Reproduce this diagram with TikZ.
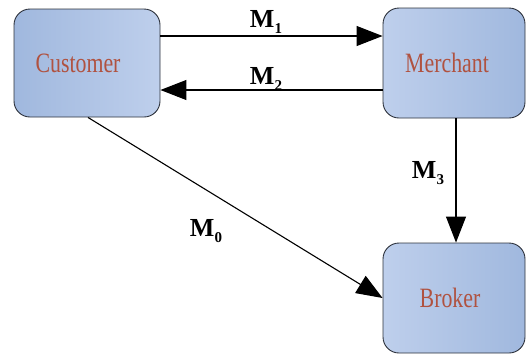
\documentclass[tikz,border=0pt]{standalone}
\usepackage{fontspec}
\setmainfont{Liberation Serif}
\usetikzlibrary{arrows.meta}
\definecolor{txtred}{RGB}{176,82,64}
\definecolor{boxdark}{RGB}{160,184,222}
\definecolor{boxlight}{RGB}{190,207,236}
\definecolor{boxedge}{RGB}{45,50,60}
\tikzset{
  actor/.style={draw=boxedge, line width=0.9pt, rounded corners=16pt,
    minimum width=#1, inner sep=0pt},
  lbl/.style={font=\rmfamily\fontsize{28}{30}\selectfont, text=txtred},
  msg/.style={line width=1.1pt, -{Triangle[length=26pt,width=20pt]}},
  mlab/.style={font=\rmfamily\fontsize{26}{28}\selectfont\bfseries, inner sep=0pt}
}
\newcommand{\narrow}[1]{\scalebox{0.78}[1]{#1}}
\newcommand{\msub}[1]{\textbf{M}\raisebox{-6pt}{\fontsize{15}{15}\selectfont\bfseries #1}}
\begin{document}
\begin{tikzpicture}[x=1pt,y=-1pt]
\useasboundingbox (0,0) rectangle (526,354);
\node[actor=146pt, minimum height=108pt, left color=boxdark, right color=boxlight,
  label={[lbl,xshift=-9pt]center:\narrow{Customer}}] (cust) at (87,63) {};
\node[actor=142pt, minimum height=110pt, left color=boxlight, right color=boxdark,
  label={[lbl,xshift=-7pt]center:\narrow{Merchant}}] (merch) at (454,63) {};
\node[actor=142pt, minimum height=110pt, left color=boxlight, right color=boxdark,
  label={[lbl,xshift=-4pt]center:\narrow{Broker}}] (brok) at (454,298) {};
\coordinate (c1) at (cust.east |- 0,36);
\coordinate (m1) at (merch.west |- 0,36);
\coordinate (c2) at (cust.east |- 0,90);
\coordinate (m2) at (merch.west |- 0,90);
\draw[msg] (c1) -- (m1);
\draw[msg] (m2) -- (c2);
\coordinate (m3) at (456,0);
\draw[msg] (merch.south -| m3) -- (brok.north -| m3);
\coordinate (c0) at (88,0);
\draw[msg] (cust.south -| c0) -- (brok.west);
\node[mlab] (l1) at (266,22) {\msub{1}};
\node[mlab] (l2) at (266,79) {\msub{2}};
\node[mlab] (l3) at (428,173) {\msub{3}};
\node[mlab] (l0) at (206,231) {\msub{0}};
\end{tikzpicture}
\end{document}
